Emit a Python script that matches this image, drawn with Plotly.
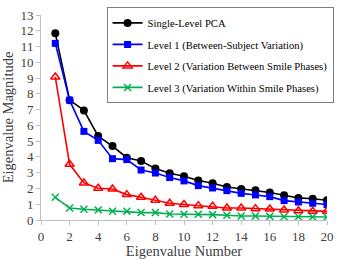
import plotly.graph_objects as go

x = list(range(1, 21))
single = [11.85, 7.6, 6.95, 5.32, 4.69, 3.95, 3.74, 3.26, 2.96, 2.77, 2.5, 2.33, 2.09, 1.97, 1.88, 1.74, 1.57, 1.4, 1.35, 1.25]
level1 = [11.2, 7.6, 5.62, 5.05, 3.89, 3.83, 3.17, 2.98, 2.69, 2.48, 2.18, 2.03, 1.86, 1.69, 1.59, 1.48, 1.23, 1.14, 1.06, 0.98]
level2 = [9.07, 3.53, 2.35, 2.01, 1.97, 1.61, 1.44, 1.25, 1.06, 0.98, 0.91, 0.87, 0.76, 0.76, 0.72, 0.7, 0.63, 0.59, 0.55, 0.55]
level3 = [1.44, 0.76, 0.68, 0.63, 0.56, 0.55, 0.47, 0.47, 0.38, 0.36, 0.36, 0.34, 0.3, 0.25, 0.25, 0.23, 0.21, 0.21, 0.19, 0.19]
names = ["Single-Level PCA", "Level 1 (Between-Subject Variation)",
         "Level 2 (Variation Between Smile Phases)", "Level 3 (Variation Within Smile Phases)"]
xticks = list(range(0, 21, 2))
yticks = list(range(0, 14))

fig = go.Figure()
styles = [
    (single, "#000000", dict(symbol="circle", size=8)),
    (level1, "#0000ff", dict(symbol="square", size=7)),
    (level2, "#ff0000", dict(symbol="triangle-up-open", size=8, line=dict(width=1.5))),
    (level3, "#00b050", dict(symbol="x-thin-open", size=7, line=dict(width=1.5, color="#00b050"))),
]
for i, ((vals, col, mk), nm) in enumerate(zip(styles, names)):
    fig.add_trace(go.Scatter(x=x, y=vals, mode="lines+markers", name=nm,
                             legendgroup=f"g{i}",
                             line=dict(color=col, width=1.6),
                             marker=dict(color=col, **mk)))

font = "Liberation Serif"
fig.update_layout(
    width=339, height=259,
    margin=dict(l=41, r=12, t=15, b=39, autoexpand=False),
    paper_bgcolor="white", plot_bgcolor="white",
    font=dict(family=font, color="#404040", size=13),
    showlegend=True,
    legend=dict(x=1.023, y=1.037, xanchor="right", yanchor="top",
                bordercolor="#7f7f7f", borderwidth=1, bgcolor="white",
                font=dict(family=font, size=10.6, color="#000000"),
                itemwidth=30, tracegroupgap=2.5),
    xaxis=dict(range=[0, 20], tickvals=xticks, showgrid=False, automargin=False,
               showline=True, linecolor="#bfbfbf", ticks="outside", tickcolor="#bfbfbf",
               ticklen=4, zeroline=False,
               title=dict(text="Eigenvalue Number", font=dict(family=font, size=14.5, color="#404040"), standoff=4)),
    yaxis=dict(range=[0, 13], tickvals=yticks, showgrid=False, automargin=False,
               showline=True, linecolor="#bfbfbf", ticks="outside", tickcolor="#bfbfbf",
               ticklen=4, zeroline=False,
               title=dict(text="Eigenvalue Magnitude", font=dict(family=font, size=14.5, color="#404040"), standoff=3)),
)
fig.write_html("out.html")
